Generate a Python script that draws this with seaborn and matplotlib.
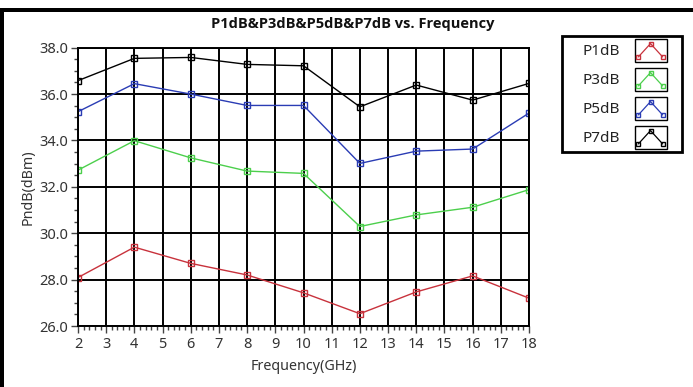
import numpy as np
import pandas as pd
import matplotlib
matplotlib.use("Agg")
import matplotlib.pyplot as plt
from matplotlib.lines import Line2D
from matplotlib.patches import Rectangle
from matplotlib.legend_handler import HandlerBase
from matplotlib.ticker import MultipleLocator, FormatStrFormatter
import seaborn as sns

freq = [2, 4, 6, 8, 10, 12, 14, 16, 18]
p1db = [28.09, 29.40, 28.70, 28.20, 27.43, 26.53, 27.47, 28.16, 27.20]
p3db = [32.72, 33.99, 33.25, 32.68, 32.58, 30.29, 30.79, 31.12, 31.88]
p5db = [35.24, 36.45, 36.00, 35.51, 35.51, 33.01, 33.54, 33.63, 35.18]
p7db = [36.58, 37.54, 37.58, 37.28, 37.22, 35.45, 36.39, 35.74, 36.46]
series_names = ["P1dB", "P3dB", "P5dB", "P7dB"]
colors = ["#c8323c", "#4ccf4c", "#2a3cb4", "#000000"]
title = "P1dB&P3dB&P5dB&P7dB vs. Frequency"
xlabel = "Frequency(GHz)"
ylabel = "PndB(dBm)"

sns.set_theme(style="white")
plt.rcParams["font.family"] = ["Noto Sans", "DejaVu Sans"]

df = pd.concat([
    pd.DataFrame({"freq": freq, "val": v, "series": n})
    for n, v in zip(series_names, [p1db, p3db, p5db, p7db])
])

fig = plt.figure(figsize=(6.93, 3.87), dpi=100)
fig.patch.set_facecolor("white")
ax = fig.add_axes([78 / 693, 1 - 326 / 387, (529 - 78) / 693, (326 - 47.7) / 387])

sns.lineplot(data=df, x="freq", y="val", hue="series", palette=colors,
             marker="s", markersize=5, markerfacecolor="none",
             markeredgewidth=1.0, linewidth=1.0, ax=ax, legend=False)
for ln, c in zip(ax.lines, colors):
    ln.set_markeredgecolor(c)
    ln.set_markerfacecolor("none")

ax.set_xlim(2, 18)
ax.set_ylim(26, 38)
ax.xaxis.set_major_locator(MultipleLocator(1))
ax.xaxis.set_minor_locator(MultipleLocator(0.2))
ax.yaxis.set_major_locator(MultipleLocator(2))
ax.yaxis.set_minor_locator(MultipleLocator(0.5))
ax.yaxis.set_major_formatter(FormatStrFormatter("%.1f"))
ax.grid(True, which="major", color="black", linewidth=1.4)
ax.set_axisbelow(True)
for s in ax.spines.values():
    s.set_color("black")
    s.set_linewidth(1.4)
ax.tick_params(axis="both", which="major", direction="out", length=5,
               width=1, color="#444444", labelsize=10.5, labelcolor="#333333",
               left=True, bottom=True, pad=2)
ax.tick_params(axis="x", which="major", pad=3)
ax.tick_params(axis="both", which="minor", direction="out", length=3,
               width=1, color="#444444", left=True, bottom=True)
ax.set_xlabel(xlabel, fontsize=10.3, color="#333333", labelpad=5)
ax.set_ylabel(ylabel, fontsize=10.3, color="#333333", labelpad=3)

fig.text(353 / 693, 1 - 24 / 387, title, ha="center", va="center",
         fontsize=10.5, fontweight="bold", color="#111111",
         family=["Open Sans", "DejaVu Sans"])


class ZigzagHandler(HandlerBase):
    def create_artists(self, legend, orig_handle, xdescent, ydescent,
                       width, height, fontsize, trans):
        x0, y0 = -xdescent, -ydescent
        c = orig_handle.get_color()
        rect = Rectangle((x0, y0), width, height, fill=False,
                         edgecolor="black", linewidth=1.0, transform=trans)
        xs = [x0 + 0.12 * width, x0 + 0.5 * width, x0 + 0.88 * width]
        ys = [y0 + 0.22 * height, y0 + 0.8 * height, y0 + 0.22 * height]
        ln = Line2D(xs, ys, color=c, linewidth=0.9, marker="s", markersize=3.5,
                    markerfacecolor="none", markeredgecolor=c,
                    transform=trans)
        return [rect, ln]


fs_leg = 11
px = fs_leg * 100 / 72
hh = (23 / px - 0.245) / 0.65
handles = [Line2D([], [], color=c) for c in colors]
leg = fig.legend(handles, series_names, loc="upper left",
                 bbox_to_anchor=(582 / 693, 1 - 39 / 387),
                 bbox_transform=fig.transFigure,
                 markerfirst=False, frameon=False,
                 fontsize=fs_leg, handlelength=32 / px, handleheight=hh,
                 handletextpad=15 / px, labelspacing=6 / px, borderpad=0,
                 borderaxespad=0,
                 handler_map={Line2D: ZigzagHandler()})
for t in leg.get_texts():
    t.set_color("#222222")

# legend frame and picture border
fig.add_artist(Rectangle((562 / 693, 1 - 152 / 387), 120 / 693, 116 / 387,
                         transform=fig.transFigure, fill=False,
                         edgecolor="black", linewidth=2.0))
fig.add_artist(Rectangle((0, 0), 4 / 693, 1 - 8 / 387, transform=fig.transFigure,
                         facecolor="black", edgecolor="none"))
fig.add_artist(Rectangle((0, 1 - 12 / 387), 1, 4 / 387, transform=fig.transFigure,
                         facecolor="black", edgecolor="none"))

fig.savefig("out.png", dpi=100, facecolor="white")
